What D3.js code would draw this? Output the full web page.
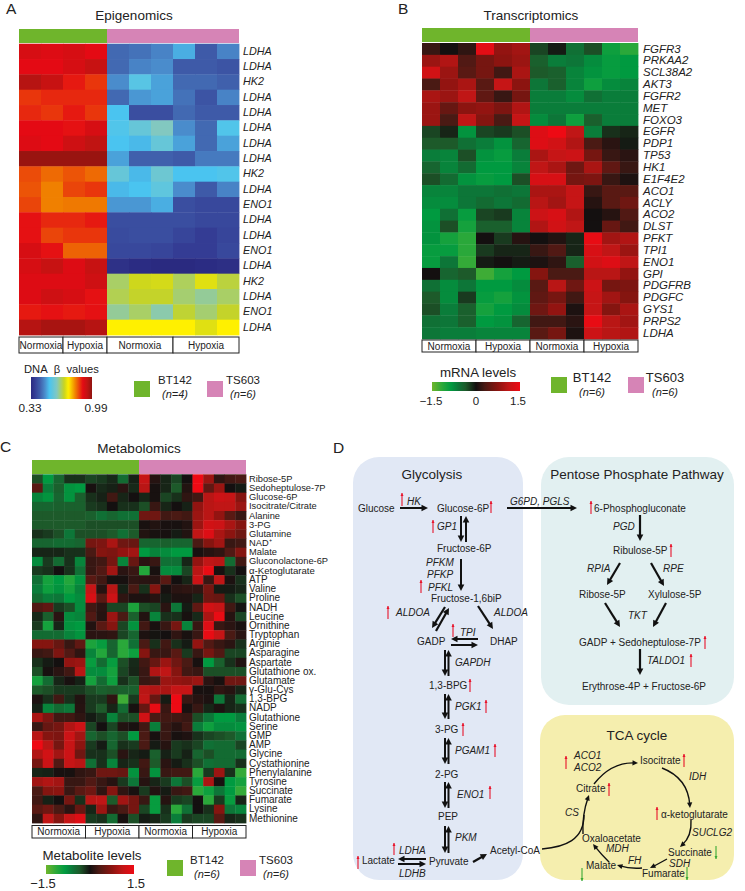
<!DOCTYPE html>
<html><head><meta charset="utf-8">
<script src="https://cdn.jsdelivr.net/npm/d3@7/dist/d3.min.js"></script>
<style>
html,body{margin:0;padding:0;background:#fff}
text{font-family:"Liberation Sans",Arial,sans-serif;fill:#222}
</style></head><body>
<svg id="fig" width="745" height="891" xmlns="http://www.w3.org/2000/svg"></svg>
<script>
// ---------- data ----------
const epigenomicsGenes = ["LDHA","LDHA","HK2","LDHA","LDHA","LDHA","LDHA","LDHA","HK2","LDHA","ENO1","LDHA","LDHA","ENO1","LDHA","HK2","LDHA","ENO1","LDHA"];
const epigenomicsValues = [
[.91,.90,.91,.89,.44,.45,.47,.51,.42,.47],
[.89,.89,.91,.93,.44,.47,.48,.42,.42,.41],
[.95,.93,.88,.86,.48,.55,.50,.44,.44,.43],
[.86,.87,.87,.87,.44,.49,.50,.45,.41,.47],
[.87,.86,.88,.86,.53,.40,.40,.44,.42,.42],
[.89,.89,.885,.91,.54,.57,.61,.48,.44,.54],
[.90,.89,.92,.94,.53,.52,.57,.50,.44,.50],
[.98,.98,.98,.98,.50,.43,.43,.42,.46,.46],
[.845,.825,.84,.825,.57,.52,.58,.53,.53,.54],
[.84,.81,.85,.86,.52,.53,.56,.48,.42,.47],
[.85,.81,.815,.815,.49,.49,.51,.40,.39,.39],
[.885,.87,.87,.88,.40,.40,.40,.40,.39,.39],
[.885,.85,.86,.86,.395,.40,.40,.385,.37,.385],
[.91,.885,.83,.83,.39,.39,.385,.37,.37,.39],
[.91,.93,.90,.93,.345,.335,.33,.33,.335,.34],
[.90,.90,.90,.92,.655,.695,.70,.66,.71,.675],
[.90,.92,.91,.885,.665,.685,.685,.65,.63,.655],
[.88,.885,.88,.885,.63,.655,.62,.68,.65,.685],
[.95,.965,.965,.95,.735,.735,.735,.735,.71,.735]];

const transcriptomicsGenes = ["FGFR3","PRKAA2","SCL38A2","AKT3","FGFR2","MET","FOXO3","EGFR","PDP1","TP53","HK1","E1F4E2","ACO1","ACLY","ACO2","DLST","PFKT","TPI1","ENO1","GPI","PDGFRB","PDGFC","GYS1","PRPS2","LDHA"];
const transcriptomicsValues = [
[.2,0,.15,1.4,.8,.9,-.25,-.05,-.55,-.3,-.95,-1.15],
[.85,1,.35,.6,.75,.85,-.4,-.65,-.6,-.75,-.9,-.85],
[1.25,.85,.4,.6,.25,.95,-.35,-.4,-.7,-.8,-.9,-.85],
[.3,.8,.95,.4,1.15,.75,-.6,-.4,-.7,-.95,-.75,-.7],
[.95,.85,1.1,.45,.2,.6,-.65,-.65,-.75,-.55,-.65,-.65],
[.85,.5,.75,.8,.65,1,-.65,-.65,-.65,-.65,-.65,-.65],
[.85,.3,1.1,.7,.3,1.15,-.75,-.6,-.95,-.4,-.65,-.65],
[-.25,-.1,-.8,-.25,-.2,-.3,1.35,1.5,1.1,-.65,-.15,-.1],
[-.35,-.35,-.55,-.65,-.8,-.45,1.35,1.25,1,.3,.12,-.05],
[-.65,-.7,-.3,-.8,-.9,-.65,.95,1.15,1.2,.6,.2,.12],
[-.45,-.7,-.5,-.85,-.85,-.7,1.1,.95,.55,.95,.45,.2],
[-.3,-.5,-.8,-.9,-.85,-.3,1.3,1.3,.6,.65,.2,.05],
[-.7,-.7,-.6,-.6,-.55,-.6,.95,.95,1.15,.2,.4,.4],
[-.75,-.75,-.6,-.5,-.6,-.5,1.05,.9,1.15,.1,.4,.55],
[-.85,-.55,-.9,-.25,-.2,-.7,1.2,1.3,1,0,.1,.35],
[-.8,-.3,-1,-.4,-.4,-.7,1,1.25,1.1,0,.5,.25],
[-.8,-1,-1.15,0,-.2,.1,0,.08,-.1,1.45,.9,1],
[-.9,-.9,-1.15,-.2,-.1,-.1,.2,.35,-.1,1.3,1.1,.85],
[-.9,-.6,-1.2,-.05,0,-.05,.05,.15,-.4,1.25,1.35,1.1],
[0,-.45,-.35,-1.25,-1,-.85,.7,.3,.3,1.05,1.05,.8],
[-.55,-.75,-.6,-.85,-.85,-.75,.4,1.05,.55,1.2,.6,.65],
[-.35,-.75,-.2,-.9,-1,-.8,.45,.6,.25,1.15,.9,.7],
[-.3,-.65,-.4,-1,-.85,-.75,.55,.8,.05,1.15,.7,.95],
[-.55,-.6,-.4,-.85,-.8,-.45,.25,.25,.12,1.45,1.05,.9],
[-.6,-.65,-.65,-.7,-.7,-.7,.4,.6,.05,1.2,1.05,1]];

const metabolites = ["Ribose-5P","Sedoheptulose-7P","Glucose-6P","Isocitrate/Citrate","Alanine","3-PG","Glutamine","NAD⁺","Malate","Gluconolactone-6P","α-Ketoglutarate","ATP","Valine","Proline","NADH","Leucine","Ornithine","Tryptophan","Arginie","Asparagine","Aspartate","Glutathione ox.","Glutamate","γ-Glu-Cys","1,3-BPG","NADP","Glutathione","Serine","GMP","AMP","Glycine","Cystathionine","Phenylalanine","Tyrosine","Succinate","Fumarate","Lysine","Methionine"];
const metabolomicsValues = [
[-.3,-.85,-.45,-.15,-.15,-.25,-.2,-.12,-.5,-.08,1.15,.1,-.1,-.25,0,1.5,.85,.15,.25,.3],
[.4,-.65,-.4,-.8,-.85,.02,-.12,-.08,.12,-.12,1.05,.02,-.1,-.35,.08,1.5,.45,.85,0,-.05],
[-.7,-.8,-.45,-.8,-.4,-.15,-.08,.25,-.1,0,-.1,.02,-.25,-.15,.15,.25,1.05,1.2,1.15,.7],
[-.45,-.45,-.4,-.4,-.4,-.2,-.15,0,-.15,-.15,-.3,.2,-.1,0,-.08,.8,1.05,1.1,1.1,.85],
[-.35,-.35,-.35,-.35,-.35,-.4,-.55,-.45,-.55,-.55,.55,.55,.25,.3,.25,.85,1.05,.8,.4,.2],
[-.35,-.35,-.35,-.35,-.35,-.3,-.3,-.3,-.3,-.3,.03,.08,.03,.02,.08,.85,1.25,1.2,.95,.7],
[-.15,-.2,-.3,-.6,-.3,-.3,-.3,-.35,-.55,-.35,.08,.02,.02,-.05,.08,1.1,1.35,.95,.75,.55],
[-.45,-.45,-.5,-.5,-.45,.6,.65,.95,.55,.5,-.45,-.45,-.4,-.45,-.45,.3,.7,.9,.2,.25],
[-.1,-.1,-.1,-.15,-.15,.3,.7,.65,.8,.9,-.85,-.7,-.75,-.85,-.85,.02,.1,.15,.35,.7],
[-.75,-.2,-.5,-.15,-.7,.2,.25,.6,-.7,.5,.12,.2,-.55,-.55,-.1,.8,1.1,1.05,-.5,.25],
[-.2,-.15,0,-.15,-.55,.2,.35,.9,.12,.2,-1.1,.02,-.75,-.75,-.25,1.05,1.45,.02,-.15,0],
[-.55,-1,-.85,-1.1,-.8,.4,.25,.02,.02,.15,.12,.12,.4,0,-.1,1.2,.2,1.1,.05,-.15],
[-.65,-.95,-.8,-1,-.7,1.15,.1,1.05,-.08,.3,-.15,.7,.02,.12,.15,.15,.6,-.05,-.05,-.1],
[-.5,-.65,-.6,-.85,-.75,1.3,.4,1.2,.15,.05,.05,.1,-.05,.05,.05,-.1,.55,.5,-.15,-.3],
[.35,.45,-.2,-.3,-.75,.25,.12,-.25,-.25,-1.05,-.3,-.25,.12,-.6,-.05,.45,1.25,1.15,.25,-.02],
[-.12,-.4,.12,-.75,-.7,.35,.1,.85,.3,-.4,.08,-.7,-.15,-.15,.02,-.12,.95,1.45,.1,-.25],
[-.2,-1,-.1,-.8,-.85,.08,.4,.7,-.25,-.8,.25,.03,.2,.6,-.7,.2,1.35,.2,.12,.03],
[-.5,-.5,-.5,-.7,-.8,.12,.12,.15,-.25,-.45,.05,-.02,0,.15,.03,.2,1.45,1.15,.3,.12],
[.7,.7,.5,.2,.45,-1.05,-.9,-.45,-1.15,-.55,.3,-.15,.25,-.15,-.05,.8,.35,.2,.12,-.15],
[.2,.25,.65,.35,.15,-.7,-1.1,-.45,-1.15,-.95,.7,.2,.2,.4,-.2,.2,.6,.35,-.25,-.25],
[-.15,-.05,0,.8,.85,-.9,-.5,-.9,-.3,-.12,.25,.5,.85,.55,.3,.02,-.85,-.4,-.15,.08],
[-.3,.02,.12,.25,1.05,-.75,-.75,-1,-.25,-.1,.2,1,1.1,.7,.25,.2,-.3,-.3,-.3,-.3],
[-1,-.5,-.1,.03,-.08,-1,-.5,-.95,-.15,-.3,.2,.25,.85,.8,.75,.85,.12,.02,.55,.55],
[-.35,-.3,-.2,-.2,-.2,-.3,-.4,-.35,-.4,-.4,1.05,1,.95,1.15,1.15,.02,.02,.15,.1,-.1],
[.05,-.15,.25,-.15,.08,-.2,-.2,.15,-1.25,-.2,1.1,.5,-.05,1.5,.2,.1,.05,-.6,-.1,-.5],
[-.08,-.7,-.5,-.6,.1,-.2,-.35,-.1,-.5,.02,.5,1.45,.2,1.5,.03,.2,-.1,.05,-.1,-.15],
[.95,.65,.25,.25,.15,-.05,-.15,-.7,-.3,-.3,1.25,.3,.25,.25,.2,-.3,-.6,-.85,-.85,-.65],
[.2,.5,.6,1,1.2,-.25,0,-.25,.08,.03,.25,-.65,.2,.1,.25,-.65,-.95,-.75,-.75,-.8],
[1.05,.7,.65,1.2,.9,-.45,-.3,-.45,-.3,-.85,.3,.02,.2,.02,.06,-.15,-.25,-.3,-.35,-.55],
[1.5,1.05,.6,1.15,.75,-.2,-.05,-.45,-.15,-.2,.3,-.05,.1,-.2,-.15,-.25,-.55,-.5,-.5,-.25],
[1,1.25,.9,1.2,.55,-.15,-.15,-.3,.12,-.1,-.05,-.4,-.08,-.2,-.08,-.45,-.3,-.5,-.5,-.5],
[.6,1.2,.35,1.15,1.05,-.55,-.15,-.7,-.1,-.15,.25,-.35,.12,-.05,-.15,-.3,-.55,-.5,-.5,-.15],
[-.1,-.08,.02,.02,.15,.2,.55,.55,.5,-.8,.2,-.8,.2,.25,.25,-1.15,-.2,.85,-.15,-1.2],
[.9,1,.9,.2,.2,.35,.2,.1,-.2,-.6,.1,-.1,-.2,-.6,-.3,-.9,.95,.02,-.85,-1],
[.3,.7,.75,.2,.4,.55,.15,.7,.15,.02,-.2,.08,-.05,.2,.25,-1.15,-.95,-.6,-.85,-1.2],
[.25,-.08,0,.6,-.15,1.05,1.1,-.35,.9,.6,.2,-.9,.1,-.2,-.25,0,-1.15,-.2,-.9,-.1],
[.4,.55,.3,.12,.5,-.1,.85,.2,.3,.6,-.25,-.9,-.15,-1.15,-.55,0,-.15,.7,-.6,-.7],
[.15,1.1,.7,1.15,1.35,-.2,-.15,-.5,.02,-.3,-.05,-.1,-.2,-.65,-.2,-.25,-.25,.4,-.1,-.15]];

const conditions = ["Normoxia","Hypoxia","Normoxia","Hypoxia"];
const cellLines = ["BT142","TS603"];

// ---------- styles ----------
const GREEN="#6fb52c", PINK="#d684b6", RED="#e8132b", DOWN="#3aa935", INK="#111";
const betaColor = d3.scaleLinear()
  .domain([.33,.37,.43,.48,.53,.61,.69,.735,.81,.89,.94,.99])
  .range(["#2a2a80","#343c94","#4060ac","#4a8ccc","#4ac4f0","#82c8c0","#c8d420","#fff000","#f08000","#e40a14","#c01412","#8f1410"]);
const zColor = d3.scaleLinear()
  .domain([-1.5,-1.15,-.85,-.6,-.35,0,.3,.75,1.1,1.5])
  .range(["#6fb52c","#2aa83a","#009a40","#0d7638","#1d5a2a","#141010","#4a1a14","#8c1410","#c01616","#ee0a14"]);

const svg = d3.select("#fig");
const defs = svg.append("defs");
let gid=0;
function T(x,y,s,o={}){
  return svg.append("text").attr("x",x).attr("y",y).text(s)
    .attr("font-size",o.size||10).attr("text-anchor",o.anchor||"start")
    .attr("font-style",o.italic?"italic":"normal");
}
function colorBar(scale,x,y,w,h){
  const id="g"+(gid++), [a,b]=[scale.domain()[0],scale.domain().at(-1)];
  const g=defs.append("linearGradient").attr("id",id);
  d3.range(0,1.0001,.02).forEach(t=>g.append("stop").attr("offset",t).attr("stop-color",scale(a+(b-a)*t)));
  svg.append("rect").attr("x",x).attr("y",y).attr("width",w).attr("height",h).attr("fill",`url(#${id})`);
}
function heatmap(p){
  const nc=p.values[0].length;
  const x=d3.scaleBand().domain(d3.range(nc)).range([p.x0,p.x1]);
  const y=d3.scaleBand().domain(d3.range(p.values.length)).range([p.y0,p.y1]);
  const g=svg.append("g");
  const mid=x(p.split);
  g.selectAll("rect.top").data([0,1]).join("rect").attr("class","top")
    .attr("x",d=>d?mid:p.x0).attr("width",d=>d?p.x1-mid:mid-p.x0)
    .attr("y",p.barY).attr("height",p.barH).attr("fill",d=>d?PINK:GREEN);
  g.selectAll("g.r").data(p.values).join("g").attr("class","r")
    .selectAll("rect").data((r,i)=>r.map((v,j)=>({v,i,j}))).join("rect")
    .attr("x",d=>x(d.j)).attr("y",d=>y(d.i))
    .attr("width",x.bandwidth()+.4).attr("height",y.bandwidth()+.4)
    .attr("fill",d=>p.color(d.v));
  const ax=g.append("g").attr("transform",`translate(${p.x1},0)`)
    .call(d3.axisRight(y).tickSize(0).tickPadding(p.pad).tickFormat(i=>p.labels[i]));
  ax.select(".domain").remove();
  ax.attr("font-family",null);
  ax.selectAll("text").attr("font-size",i=>p.labelSize(i)).attr("font-style",p.italic?"italic":"normal").style("fill","#222");
  p.boxes.forEach((b,i)=>{
    const a=x(b[0]), e=b[1]>=nc?p.x1:x(b[1]);
    g.append("rect").attr("x",a).attr("y",p.boxY).attr("width",e-a).attr("height",p.boxH)
      .attr("fill","#fff").attr("stroke","#222").attr("stroke-width",1);
    g.append("text").attr("x",(a+e)/2).attr("y",p.boxY+p.boxH/2+3.6).attr("text-anchor","middle")
      .attr("font-size",10).text(conditions[i]);
  });
}
heatmap({values:epigenomicsValues,labels:epigenomicsGenes,color:betaColor,x0:19,x1:239,y0:43.7,y1:335,barY:29,barH:14,split:4,
  pad:4,labelSize:()=>10.8,italic:true,boxes:[[0,2],[2,4],[4,7],[7,10]],boxY:337,boxH:16});
heatmap({values:transcriptomicsValues,labels:transcriptomicsGenes,color:zColor,x0:422,x1:638,y0:43,y1:339,barY:28,barH:14,split:6,
  pad:5,labelSize:()=>11.5,italic:true,boxes:[[0,3],[3,6],[6,9],[9,12]],boxY:340,boxH:12});
heatmap({values:metabolomicsValues,labels:metabolites,color:zColor,x0:32,x1:246,y0:474.3,y1:823,barY:460,barH:14,split:10,
  pad:3,labelSize:i=>i<10?9.3:(i==10?9.6:10),italic:false,boxes:[[0,5],[5,10],[10,15],[15,20]],boxY:825.5,boxH:12.5});

// panel letters and titles
[["A",6,14],["B",398,14],["C",0,452],["D",333,453]].forEach(d=>T(d[1],d[2],d[0],{size:15.5}));
T(134,20,"Epigenomics",{size:13.5,anchor:"middle"});
T(531,20,"Transcriptomics",{size:13.5,anchor:"middle"});
T(139,453,"Metabolomics",{size:13.5,anchor:"middle"});

// legends
function swatches(l){
  svg.append("rect").attr("x",l.gx).attr("y",l.y).attr("width",16).attr("height",16).attr("fill",GREEN);
  svg.append("rect").attr("x",l.px).attr("y",l.y).attr("width",16).attr("height",16).attr("fill",PINK);
  T(l.t1,l.ty,cellLines[0],{size:l.size,anchor:"middle"});
  T(l.t1,l.ny,l.n1,{size:11,anchor:"middle",italic:true});
  T(l.t2,l.ty,cellLines[1],{size:l.size,anchor:"middle"});
  T(l.t2,l.ny,l.n2,{size:11,anchor:"middle",italic:true});
}
T(24,373,"DNA\u00a0\u00a0β\u00a0\u00a0values",{size:11.2});
colorBar(betaColor,31,377,61,22);
T(30,412,"0.33",{size:11.8,anchor:"middle"});
T(96,412,"0.99",{size:11.8,anchor:"middle"});
swatches({gx:134,px:207,y:381,t1:175,t2:243,ty:384,ny:398,n1:"(n=4)",n2:"(n=6)",size:11.5});

T(478,377,"mRNA levels",{size:13.3,anchor:"middle"});
colorBar(zColor,432,382,88,9);
T(431,405,"−1.5",{size:11.5,anchor:"middle"});
T(476,405,"0",{size:11.5,anchor:"middle"});
T(518,405,"1.5",{size:11.5,anchor:"middle"});
swatches({gx:551,px:628,y:377,t1:592,t2:665,ty:382,ny:396,n1:"(n=6)",n2:"(n=6)",size:13});

T(92,860,"Metabolite levels",{size:13.3,anchor:"middle"});
colorBar(zColor,46,865,88,9);
T(43,888,"−1.5",{size:13,anchor:"middle"});
T(136,888,"1.5",{size:13,anchor:"middle"});
swatches({gx:167,px:240,y:860,t1:207,t2:276,ty:864,ny:878,n1:"(n=6)",n2:"(n=6)",size:11.5});

// ---------- pathway panel ----------
const PAL={gly:"#e1e8f5",ppp:"#e2f0f1",tca:"#f5eeae"};
[[353,457,170,423,26,PAL.gly],[541,457,193,248,28,PAL.ppp],[540,715,194,165,25,PAL.tca]].forEach(r=>{
  svg.append("rect").attr("x",r[0]).attr("y",r[1]).attr("width",r[2]).attr("height",r[3]).attr("rx",r[4]).attr("fill",r[5]);
});
T(432,479,"Glycolysis",{size:13.5,anchor:"middle"});
T(637,479,"Pentose Phosphate Pathway",{size:13.5,anchor:"middle"});
T(637,740,"TCA cycle",{size:13.5,anchor:"middle"});

const pg=svg.append("g");
function head(x,y,ang,L=6.5,W=3.3,c=INK){
  const ca=Math.cos(ang),sa=Math.sin(ang);
  pg.append("path").attr("fill",c)
   .attr("d",`M${x},${y}L${x-L*ca-W*sa},${y-L*sa+W*ca}L${x-L*ca+W*sa},${y-L*sa-W*ca}Z`);
}
function arr(x1,y1,x2,y2,w=2){
  const a=Math.atan2(y2-y1,x2-x1);
  pg.append("line").attr("x1",x1).attr("y1",y1).attr("x2",x2-4*Math.cos(a)).attr("y2",y2-4*Math.sin(a))
    .attr("stroke",INK).attr("stroke-width",w);
  head(x2,y2,a);
}
function curve(x1,y1,cx,cy,x2,y2,w=1.4){
  const a=Math.atan2(y2-cy,x2-cx);
  pg.append("path").attr("fill","none").attr("stroke",INK).attr("stroke-width",w)
    .attr("d",`M${x1},${y1}Q${cx},${cy} ${x2-3*Math.cos(a)},${y2-3*Math.sin(a)}`);
  head(x2,y2,a,5.5,2.6);
}
function updown(xd,xu,y1,y2){arr(xd,y1,xd,y2);arr(xu,y2,xu,y1);}
function mark(x,y1,y2,c=RED){
  pg.append("line").attr("x1",x).attr("x2",x).attr("y1",y1).attr("y2",y2).attr("stroke",c).attr("stroke-width",1.1);
  head(x,y2,y2<y1?-Math.PI/2:Math.PI/2,3,1.5,c);
}
const nodes=[
 ["Glucose",358,511.5],["Glucose-6P",437,511.5],["Fructose-6P",437,551.5],["Fructose-1,6biP",431,601.5],
 ["GADP",417,644.5],["DHAP",490,644.5],["1,3-BPG",429,689],["3-PG",435,733],["2-PG",435,778],["PEP",438,820],
 ["Pyruvate",429,865],["Lactate",362,864],["Acetyl-CoA",490,854],
 ["6-Phosphogluconate",594,512],["Ribulose-5P",613,554],["Ribose-5P",579,598],["Xylulose-5P",648,598],
 ["GADP + Sedoheptulose-7P",579,645.5],["Erythrose-4P + Fructose-6P",582,690],
 ["Isocitrate",640,763.5],["Citrate",576,792],["α-ketoglutarate",661,818],["Succinate",668,855.5],["Fumarate",642,876.5],
 ["Malate",586,869],["Oxaloacetate",582,841.5]];
const enzymes=[
 ["HK",407,505],["GP1",437,529.5],["PFKM",426,565.5],["PFKP",427,577.5],["PFKL",428,590.5],["ALDOA",396,615.5],["ALDOA",494,615.5],
 ["TPI",460,635.5],["GAPDH",455,665.5],["PGK1",455,710],["PGAM1",455,753.5],["ENO1",457,798],["PKM",455,841],
 ["LDHA",399,854],["LDHB",399,877],["G6PD, PGLS",510,505],
 ["PGD",613,530],["RPIA",587,572],["RPE",663,572],["TKT",628,619],["TALDO1",647,664],
 ["ACO1",574,758.5],["ACO2",574,771],["IDH",689,779.5],["SUCLG2",692,835.5],["SDH",669,867],["FH",628,863.5],["MDH",606,852],["CS",565,815.5]];
nodes.forEach(n=>T(n[1],n[2],n[0],{size:10}));
enzymes.forEach(n=>T(n[1],n[2],n[0],{size:10,italic:true}));

// glycolysis arrows
arr(400,508,428,508);
arr(507,508,577,508);
updown(461,466,516,542);
arr(461,559,461,591);
arr(445,607,432,628,2.2); arr(436,631,449,608,2.2);
arr(478,606,493,629,2.2);
arr(478,639,451,639); arr(451,645,478,645);
[[650,676],[694,719],[738,764],[782,808],[826,853]].forEach(r=>updown(445,448.5,r[0],r[1]));
arr(426,859,398,859,2); arr(398,864,426,864,2);
arr(473,862,487,854,2.2);
// ppp arrows
arr(640,515,640,541,2.2); arr(620,563,607,585,2.2); arr(651,563,664,586,2.2);
arr(605,603,620,627,2.2); arr(666,603,653,627,2.2); arr(640,649,640,675,2.2);
// tca arrows
curve(594,784,611,762,638,763);
curve(662,768,688,778,690,808);
curve(691,820,692,836,680,847);
curve(667,859,658,864,650,868);
curve(642,868,630,869,617,865);
curve(609,862,601,854,593,844);
curve(583,834,582,815,589,795);
pg.append("path").attr("fill","none").attr("stroke",INK).attr("stroke-width",1.4).attr("d","M542,849C565,847 584,840 584,815");
// change markers
[[402,506,493],[491,513,501],[433,533,520],[421,593,580],[388,619,606],[453,637,624],[470,692,679],[486,713,700],[463,736,723],[495,757,744],[490,799,786],[394,855,843],[358,869,856],
 [591,514,501],[671,557,544],[705,649,636],[691,667,654],[566,769,756],[684,767,754],[609,796,783],[657,820,807]].forEach(m=>mark(m[0],m[1],m[2]));
[[716,846,859],[687,867,880],[582,868,881]].forEach(m=>mark(m[0],m[1],m[2],DOWN));
</script>
</body></html>
